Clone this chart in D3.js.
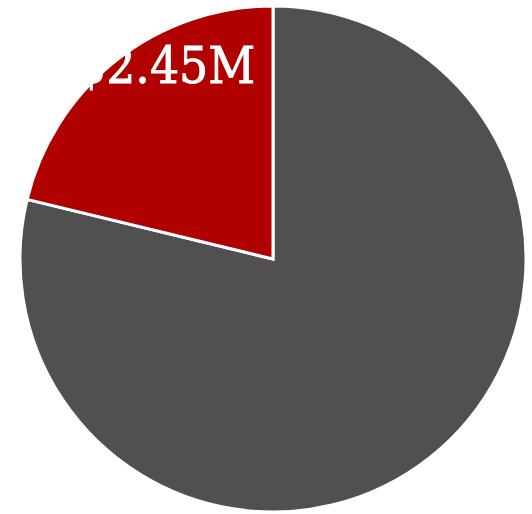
<!DOCTYPE html>
<html>
<head>
<meta charset="utf-8">
<script src="https://cdn.jsdelivr.net/npm/d3@7"></script>
<style>
  body { margin: 0; background: #fff; }
</style>
</head>
<body>
<div id="chart"></div>
<script>
var labels = ["Other", "Selected"];
var values = [9.1, 2.45];
var colors = ["#505050", "#b00000"];
var valueText = ["", "$2.45M"];

var svgWidth = 532;
var svgHeight = 514;

var cx = 273;
var cy = 259;
var radius = 253;

var svg = d3.select("#chart")
  .append("svg")
  .attr("width", svgWidth)
  .attr("height", svgHeight);

var chartGroup = svg.append("g")
  .attr("transform", `translate(${cx}, ${cy})`);

var pie = d3.pie().sort(null).value(d => d);
var arcs = pie(values);

var arc = d3.arc().innerRadius(0).outerRadius(radius);

chartGroup.selectAll("path")
  .data(arcs)
  .enter()
  .append("path")
  .attr("d", arc)
  .attr("fill", (d, i) => colors[i])
  .attr("stroke", "#fff")
  .attr("stroke-width", 3)
  .attr("stroke-linejoin", "miter");

// label for the red slice, anchored near its top
chartGroup.append("text")
  .attr("x", -radius * 0.07)
  .attr("y", -radius * 0.696)
  .attr("text-anchor", "end")
  .attr("font-family", "DejaVu Serif Condensed, DejaVu Serif")
  .attr("font-stretch", "condensed")
  .attr("font-size", 51)
  .attr("fill", "#fff")
  .attr("stroke", "#fff")
  .attr("stroke-width", 0.8)
  .text(valueText[1]);
</script>
</body>
</html>
